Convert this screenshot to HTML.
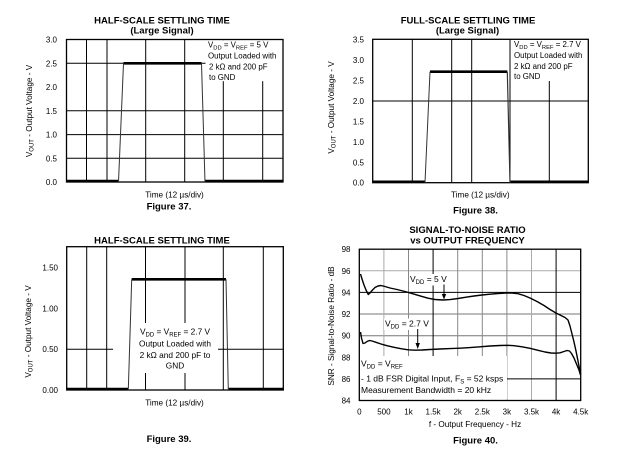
<!DOCTYPE html>
<html>
<head>
<meta charset="utf-8">
<style>
html,body{margin:0;padding:0;background:#fff;}
svg{display:block;}
text{font-family:"Liberation Sans",Arial,sans-serif;fill:#000;}
.t{font-size:9.5px;font-weight:bold;text-anchor:middle;}
.f{font-size:9.5px;font-weight:bold;text-anchor:middle;}
.l{font-size:8.2px;}
.r{font-size:8px;text-anchor:end;}
.c{font-size:8px;text-anchor:middle;}
.a{font-size:7.9px;}
</style>
</head>
<body>
<svg width="620" height="449" viewBox="0 0 620 449" xmlns="http://www.w3.org/2000/svg">
<rect width="620" height="449" fill="#fff"/>

<!-- ================= PLOT 1 ================= -->
<text class="t" x="162" y="23.5">HALF-SCALE SETTLING TIME</text>
<text class="t" x="162" y="33.5">(Large Signal)</text>
<g stroke="#000" stroke-width="1">
  <line x1="66.5" y1="63.3" x2="283" y2="63.3"/>
  <line x1="66.5" y1="110.8" x2="283" y2="110.8"/>
  <line x1="66.5" y1="134.6" x2="283" y2="134.6"/>
  <line x1="66.5" y1="158.3" x2="283" y2="158.3"/>
  <line x1="86.5" y1="39.5" x2="86.5" y2="182"/>
  <line x1="107" y1="39.5" x2="107" y2="182"/>
  <line x1="145.7" y1="39.5" x2="145.7" y2="182"/>
  <line x1="184.7" y1="39.5" x2="184.7" y2="182"/>
  <line x1="223.3" y1="39.5" x2="223.3" y2="182"/>
  <line x1="262.7" y1="39.5" x2="262.7" y2="182"/>
</g>
<rect x="205.5" y="40.2" width="77" height="41" fill="#fff"/>
<rect x="66.5" y="39.5" width="216.5" height="142.5" fill="none" stroke="#000" stroke-width="1.3"/>
<g stroke="#000" fill="none">
  <line x1="66.5" y1="181" x2="118.5" y2="181" stroke-width="2.5"/>
  <line x1="205" y1="181" x2="283" y2="181" stroke-width="2.5"/>
  <line x1="123.5" y1="63.3" x2="201.5" y2="63.3" stroke-width="2.6"/>
  <line x1="118.5" y1="182" x2="123.5" y2="63.3" stroke-width="1" stroke="#333"/>
  <line x1="201.5" y1="63.3" x2="205" y2="182" stroke-width="1" stroke="#333"/>
</g>
<text class="a" x="208" y="47.5">V<tspan font-size="5.8" dy="1.8">DD</tspan><tspan dy="-1.8"> = V</tspan><tspan font-size="5.8" dy="1.8">REF</tspan><tspan dy="-1.8"> = 5 V</tspan></text>
<text class="a" x="208" y="58.3">Output Loaded with</text>
<text class="a" x="209" y="69.3">2 kΩ and 200 pF</text>
<text class="a" x="209" y="80">to GND</text>
<g class="r">
  <text class="r" x="57" y="42.5">3.0</text>
  <text class="r" x="57" y="66.3">2.5</text>
  <text class="r" x="57" y="90">2.0</text>
  <text class="r" x="57" y="113.8">1.5</text>
  <text class="r" x="57" y="137.6">1.0</text>
  <text class="r" x="57" y="161.3">0.5</text>
  <text class="r" x="57" y="185">0.0</text>
</g>
<text class="l" transform="translate(32,111) rotate(-90)" text-anchor="middle">V<tspan font-size="6" dy="1.5">OUT</tspan><tspan dy="-1.5"> - Output Voltage - V</tspan></text>
<text class="l" x="174.5" y="197.3" text-anchor="middle">Time (12 µs/div)</text>
<text class="f" x="169" y="209.5">Figure 37.</text>

<!-- ================= PLOT 2 ================= -->
<text class="t" x="468" y="23.5">FULL-SCALE SETTLING TIME</text>
<text class="t" x="467.5" y="33.5">(Large Signal)</text>
<g stroke="#000" stroke-width="1">
  <line x1="372.7" y1="101" x2="588.3" y2="101"/>
  <line x1="412.3" y1="39.3" x2="412.3" y2="182.7"/>
  <line x1="451.7" y1="39.3" x2="451.7" y2="182.7"/>
  <line x1="471.7" y1="39.3" x2="471.7" y2="182.7"/>
  <line x1="510" y1="39.3" x2="510" y2="182.7"/>
  <line x1="549.3" y1="39.3" x2="549.3" y2="182.7"/>
</g>
<rect x="512" y="40" width="76" height="41" fill="#fff"/>
<rect x="372.7" y="39.3" width="215.6" height="143.4" fill="none" stroke="#000" stroke-width="1.3"/>
<g stroke="#000" fill="none">
  <line x1="372.7" y1="181.7" x2="425" y2="181.7" stroke-width="2.5"/>
  <line x1="510" y1="181.7" x2="588.3" y2="181.7" stroke-width="2.5"/>
  <line x1="430" y1="71.7" x2="507.3" y2="71.7" stroke-width="2.6"/>
  <line x1="425" y1="182.7" x2="430" y2="71.7" stroke-width="1" stroke="#333"/>
  <line x1="507.3" y1="71.7" x2="510" y2="182.7" stroke-width="1.2" stroke="#333"/>
</g>
<text class="a" x="514" y="47">V<tspan font-size="5.8" dy="1.8">DD</tspan><tspan dy="-1.8"> = V</tspan><tspan font-size="5.8" dy="1.8">REF</tspan><tspan dy="-1.8"> = 2.7 V</tspan></text>
<text class="a" x="514" y="58">Output Loaded with</text>
<text class="a" x="514" y="69">2 kΩ and 200 pF</text>
<text class="a" x="514" y="79">to GND</text>
<text class="r" x="364" y="42.3">3.5</text>
<text class="r" x="364" y="62.8">3.0</text>
<text class="r" x="364" y="83.4">2.5</text>
<text class="r" x="364" y="104">2.0</text>
<text class="r" x="364" y="124.5">1.5</text>
<text class="r" x="364" y="145">1.0</text>
<text class="r" x="364" y="165.3">0.5</text>
<text class="r" x="364" y="185.7">0.0</text>
<text class="l" transform="translate(334,107.5) rotate(-90)" text-anchor="middle">V<tspan font-size="6" dy="1.5">OUT</tspan><tspan dy="-1.5"> - Output Voltage - V</tspan></text>
<text class="l" x="480.3" y="197.3" text-anchor="middle">Time (12 µs/div)</text>
<text class="f" x="475.5" y="213.5">Figure 38.</text>

<!-- ================= PLOT 3 ================= -->
<text class="t" x="162" y="243.5">HALF-SCALE SETTLING TIME</text>
<g stroke="#000" stroke-width="1">
  <line x1="66.7" y1="349.3" x2="283.3" y2="349.3"/>
  <line x1="86.7" y1="246.7" x2="86.7" y2="390"/>
  <line x1="106.7" y1="246.7" x2="106.7" y2="390"/>
  <line x1="145.5" y1="246.7" x2="145.5" y2="390"/>
  <line x1="185" y1="246.7" x2="185" y2="390"/>
  <line x1="223.3" y1="246.7" x2="223.3" y2="390"/>
  <line x1="263.3" y1="246.7" x2="263.3" y2="390"/>
</g>
<rect x="113" y="323" width="105" height="50" fill="#fff"/>
<rect x="66.7" y="246.7" width="216.6" height="143.3" fill="none" stroke="#000" stroke-width="1.3"/>
<g stroke="#000" fill="none">
  <line x1="66.7" y1="389" x2="128.3" y2="389" stroke-width="2.5"/>
  <line x1="228.3" y1="389" x2="283.3" y2="389" stroke-width="2.5"/>
  <line x1="131.7" y1="279.3" x2="226" y2="279.3" stroke-width="2.6"/>
  <line x1="128.3" y1="390" x2="131.7" y2="279.3" stroke-width="1" stroke="#333"/>
  <line x1="226" y1="279.3" x2="228.3" y2="390" stroke-width="1" stroke="#333"/>
</g>
<text x="175" y="334.5" font-size="8.3" text-anchor="middle">V<tspan font-size="6" dy="1.8">DD</tspan><tspan dy="-1.8"> = V</tspan><tspan font-size="6" dy="1.8">REF</tspan><tspan dy="-1.8"> = 2.7 V</tspan></text>
<text x="175" y="346.3" font-size="8.3" text-anchor="middle">Output Loaded with</text>
<text x="175" y="358" font-size="8.3" text-anchor="middle">2 kΩ and 200 pF to</text>
<text x="175" y="368.3" font-size="8.3" text-anchor="middle">GND</text>
<text class="r" x="58" y="270.7">1.50</text>
<text class="r" x="58" y="311.3">1.00</text>
<text class="r" x="58" y="352">0.50</text>
<text class="r" x="58" y="393">0.00</text>
<text class="l" transform="translate(31,331.5) rotate(-90)" text-anchor="middle">V<tspan font-size="6" dy="1.5">OUT</tspan><tspan dy="-1.5"> - Output Voltage - V</tspan></text>
<text class="l" x="174.5" y="405.7" text-anchor="middle">Time (12 µs/div)</text>
<text class="f" x="169" y="441.8">Figure 39.</text>

<!-- ================= PLOT 4 ================= -->
<text class="t" x="467.5" y="232.8">SIGNAL-TO-NOISE RATIO</text>
<text class="t" x="467.5" y="243.5">vs OUTPUT FREQUENCY</text>
<g stroke-width="1">
  <line x1="359.3" y1="270.8" x2="580.7" y2="270.8" stroke="#aaa"/>
  <line x1="359.3" y1="314" x2="580.7" y2="314" stroke="#777"/>
  <line x1="359.3" y1="335.7" x2="580.7" y2="335.7" stroke="#777"/>
  <line x1="383.9" y1="249.2" x2="383.9" y2="400.5" stroke="#aaa"/>
  <line x1="408.5" y1="249.2" x2="408.5" y2="400.5" stroke="#888"/>
  <line x1="457.7" y1="249.2" x2="457.7" y2="400.5" stroke="#888"/>
  <line x1="482.3" y1="249.2" x2="482.3" y2="400.5" stroke="#888"/>
  <line x1="506.9" y1="249.2" x2="506.9" y2="400.5" stroke="#888"/>
  <line x1="531.5" y1="249.2" x2="531.5" y2="400.5" stroke="#aaa"/>
  <line x1="433.1" y1="249.2" x2="433.1" y2="400.5" stroke="#000"/>
  <line x1="556.1" y1="249.2" x2="556.1" y2="400.5" stroke="#000"/>
  <line x1="359.3" y1="292.4" x2="580.7" y2="292.4" stroke="#000"/>
  <line x1="359.3" y1="378.9" x2="580.7" y2="378.9" stroke="#000"/>
</g>
<rect x="360" y="356" width="147" height="43.5" fill="#fff"/>
<rect x="409" y="274" width="42" height="11.5" fill="#fff"/>
<rect x="384" y="318.5" width="46" height="11.5" fill="#fff"/>
<rect x="359.3" y="249.2" width="221.4" height="151.3" fill="none" stroke="#000" stroke-width="1.3"/>
<polyline fill="none" stroke="#000" stroke-width="1.4" stroke-linejoin="round" points="360.5,274 362,279 364,285 366,290 368.3,294.5 370,293 372.5,290 375,287.5 378,286 381,285.5 385,286.5 390,288 397,289.5 405,291.5 413,293.8 421,296.2 428,298.2 435,299.5 443,300 450,299.6 458,298.5 466,297.2 474,296 482,295 490,294.2 498,293.5 506,293 512,293 518,293.7 524,295.5 530,298 537,301.5 544,305.5 550,309.5 556,313 561,315.5 565,317.5 568,320 570,326 572,334 574,342 576,351 578,361 580.5,374"/>
<polyline fill="none" stroke="#000" stroke-width="1.4" stroke-linejoin="round" points="360.5,332 361.5,338 363,343.5 365,343 367,341.5 369.5,340.5 372,341 376,342.3 381,344 387,345.7 394,347.3 401,348.7 408,349.8 415,350.2 422,350 430,349.5 440,349 450,348.6 460,348.2 470,347.6 480,346.8 490,346 500,345.5 507,345.3 514,345.7 522,346.8 530,348.3 538,350.3 545,352 551,353 556,353.2 560,352.8 564,351.5 567,350.5 569.5,351 571.5,353.5 574,358 576.5,364 579,370 580.5,375"/>
<!-- arrows -->
<line x1="444" y1="284.5" x2="444" y2="296" stroke="#000" stroke-width="1"/>
<polygon points="441.8,294 446.2,294 444,299.5" fill="#000"/>
<line x1="417.7" y1="329" x2="417.7" y2="345" stroke="#000" stroke-width="1"/>
<polygon points="415.5,343 419.9,343 417.7,349" fill="#000"/>
<text x="410" y="282" font-size="8.5">V<tspan font-size="6" dy="2">DD</tspan><tspan dy="-2"> = 5 V</tspan></text>
<text x="385" y="326.5" font-size="8.5">V<tspan font-size="6" dy="2">DD</tspan><tspan dy="-2"> = 2.7 V</tspan></text>
<text x="361" y="366.5" font-size="8.5">V<tspan font-size="6" dy="2">DD</tspan><tspan dy="-2"> = V</tspan><tspan font-size="6" dy="2">REF</tspan></text>
<text x="361" y="381.5" font-size="8.5">- 1 dB FSR Digital Input, F<tspan font-size="6" dy="2">S</tspan><tspan dy="-2"> = 52 ksps</tspan></text>
<text x="361" y="393" font-size="8.5">Measurement Bandwidth = 20 kHz</text>
<g>
  <text class="r" x="350.5" y="252.2">98</text>
  <text class="r" x="350.5" y="273.8">96</text>
  <text class="r" x="350.5" y="295.4">94</text>
  <text class="r" x="350.5" y="317">92</text>
  <text class="r" x="350.5" y="338.7">90</text>
  <text class="r" x="350.5" y="360.3">88</text>
  <text class="r" x="350.5" y="381.9">86</text>
  <text class="r" x="350.5" y="403.5">84</text>
</g>
<g>
  <text class="c" x="359.3" y="414.7">0</text>
  <text class="c" x="383.9" y="414.7">500</text>
  <text class="c" x="408.5" y="414.7">1k</text>
  <text class="c" x="433.1" y="414.7">1.5k</text>
  <text class="c" x="457.7" y="414.7">2k</text>
  <text class="c" x="482.3" y="414.7">2.5k</text>
  <text class="c" x="506.9" y="414.7">3k</text>
  <text class="c" x="531.5" y="414.7">3.5k</text>
  <text class="c" x="556.1" y="414.7">4k</text>
  <text class="c" x="580.7" y="414.7">4.5k</text>
</g>
<text class="l" transform="translate(334,326) rotate(-90)" text-anchor="middle">SNR - Signal-to-Noise Ratio - dB</text>
<text class="l" x="475" y="427" text-anchor="middle">f - Output Frequency - Hz</text>
<text class="f" x="475.5" y="443.5">Figure 40.</text>
</svg>
</body>
</html>
